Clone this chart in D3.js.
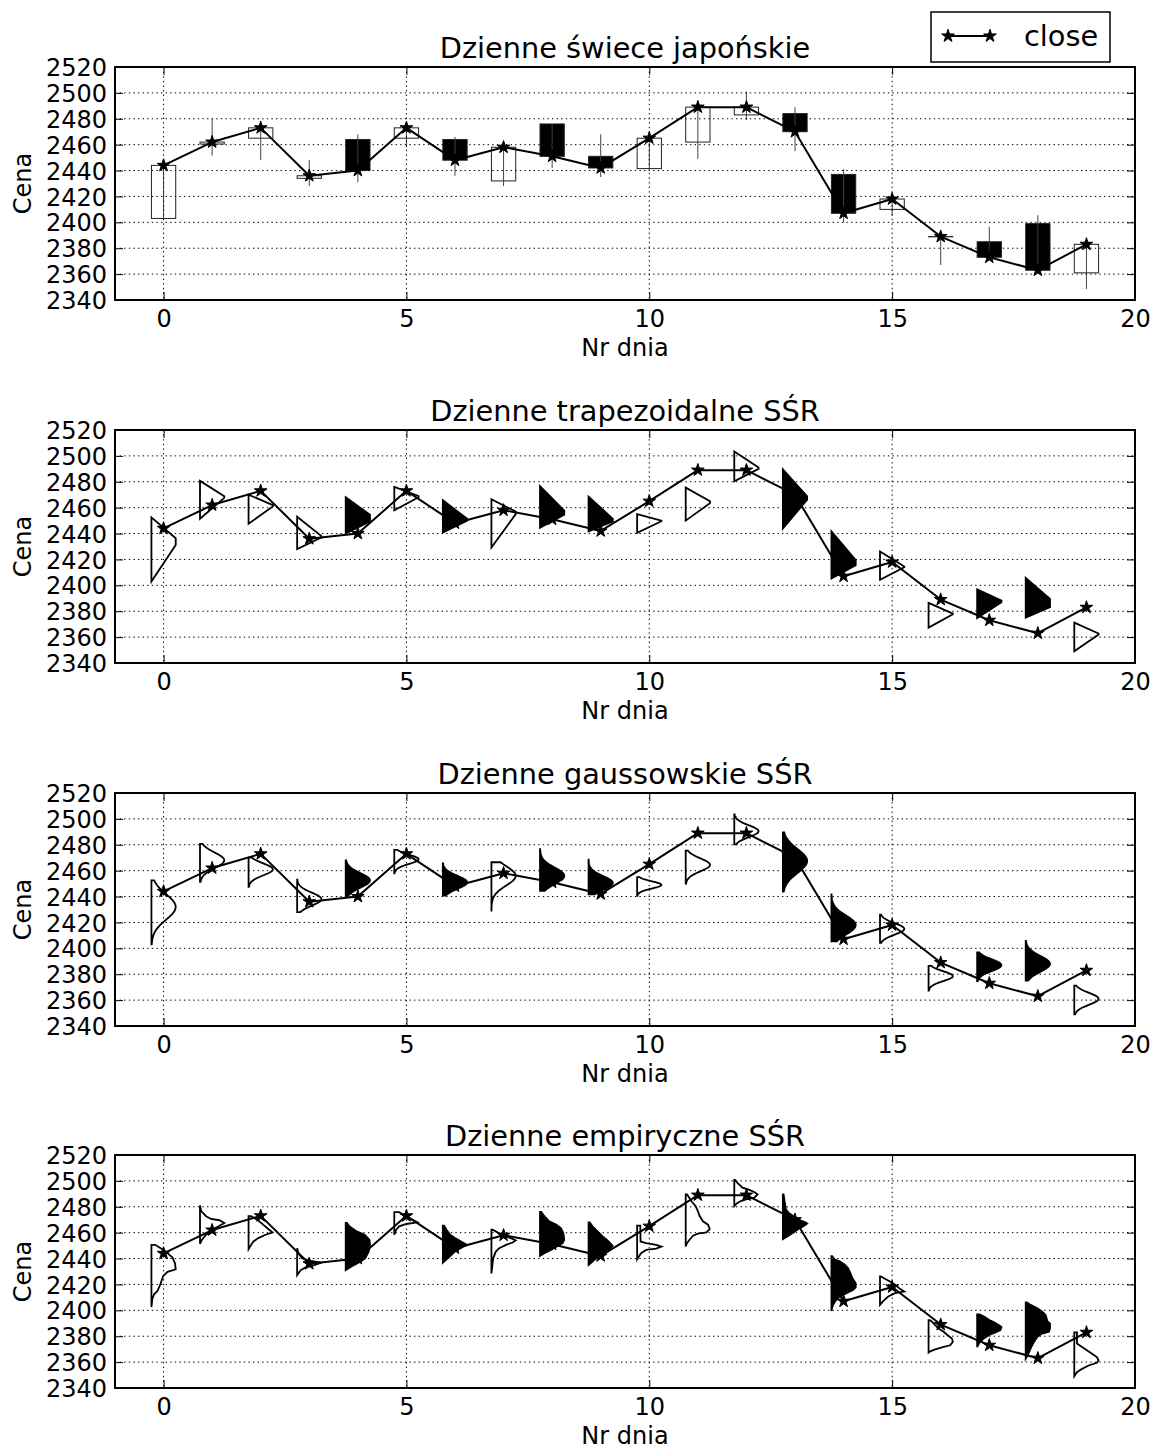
<!DOCTYPE html>
<html>
<head>
<meta charset="utf-8">
<script src="https://cdn.jsdelivr.net/npm/d3@7"></script>
<style>
  body { margin: 0; background: #fff; }
  text { font-family: "DejaVu Sans", sans-serif; fill: #000; }
</style>
</head>
<body>
<svg id="chart" width="1153" height="1450"></svg>
<script>
// ---- data -------------------------------------------------------------
const days = [0, 1, 2, 3, 4, 5, 6, 7, 8, 9, 10, 11, 12, 13, 14, 15, 16, 17, 18, 19];

// daily OHLC
const openP  = [2403, 2460.5, 2465, 2434, 2464, 2465, 2464, 2432, 2476, 2451, 2441.5, 2462, 2483, 2484, 2437, 2410, 2388.8, 2385, 2399, 2361];
const highP  = [2445, 2480, 2474, 2448, 2468, 2475, 2466, 2458, 2476, 2468, 2466, 2489, 2501, 2489, 2441, 2422, 2390, 2396.5, 2405.5, 2383.5];
const lowP   = [2402.5, 2451.5, 2448, 2428, 2431, 2458, 2436, 2428, 2442, 2435, 2441, 2449, 2479, 2455, 2400, 2405, 2367, 2370.5, 2360, 2348.5];
const closeP = [2444, 2462, 2473, 2436, 2440, 2473, 2448, 2458, 2451, 2442, 2465, 2489, 2489, 2470, 2407, 2418, 2389, 2373, 2363, 2383];

// support and core of the daily fuzzy numbers
const supportLow  = [2403, 2451.4, 2447.5, 2428, 2440, 2458, 2440.7, 2429.2, 2444.5, 2441.7, 2440.5, 2450, 2480.3, 2443.9, 2405.3, 2404.3, 2367.3, 2374.7, 2375, 2349];
const supportHigh = [2452.5, 2480.7, 2470, 2453, 2468, 2476, 2465.7, 2466.5, 2476.6, 2468.5, 2455, 2475.5, 2503.4, 2489.6, 2441.7, 2426.1, 2386.4, 2396.9, 2405.8, 2371.2];
const coreLow  = [2431.2, 2467.5, 2461, 2437, 2449.4, 2468, 2449.9, 2455, 2454.6, 2449.4, 2449.5, 2463.5, 2490, 2466.2, 2415.6, 2414, 2377.6, 2387, 2383.1, 2362];
const coreHigh = [2436.4, 2468.8, 2462, 2438, 2454.5, 2469, 2451.4, 2457, 2457.7, 2451.4, 2450, 2465, 2491, 2468.8, 2419.5, 2414.6, 2378.2, 2388.3, 2389.6, 2362.8];

// gaussian fuzzy numbers
const gaussMean  = [2432, 2468, 2461, 2438, 2452.5, 2468.8, 2451, 2456, 2456, 2450.5, 2449, 2464.5, 2490.5, 2467.5, 2418, 2415, 2378.5, 2387, 2388, 2361];
const gaussSigma = [9.8, 6, 4.6, 5, 5.6, 3.6, 5, 7.5, 6.4, 5.3, 2.8, 5, 4.5, 9.2, 7.3, 4.4, 3.8, 4.5, 6.1, 4.6];

// empirical membership profiles: [price, membership] from the top of the day's range down
const empirical = [
  [[2450.6,0.15],[2446.7,0.5],[2441,0.86],[2436.3,0.97],[2431.6,1.0],[2429.8,0.66],[2426.4,0.48],[2420.7,0.38],[2415,0.25],[2412.4,0.11],[2409,0.04],[2402.5,0]],
  [[2481,0],[2476.6,0.05],[2472.7,0.25],[2470.6,0.45],[2469.6,0.8],[2467.5,1.0],[2465.4,0.8],[2462.3,0.52],[2458.4,0.25],[2454.5,0.08],[2451.4,0]],
  [[2472.7,0.1],[2470.1,0.35],[2466.2,0.6],[2462.3,0.85],[2460.2,0.99],[2458.4,0.7],[2455.8,0.4],[2453.2,0.2],[2449.8,0.08],[2447.2,0]],
  [[2448,0],[2444.1,0.05],[2440.2,0.2],[2438.4,0.5],[2436.8,1.0],[2435,0.7],[2433.2,0.35],[2431.1,0.15],[2427.2,0]],
  [[2467.5,0.05],[2464.9,0.15],[2461,0.45],[2458.4,0.78],[2454.5,0.98],[2450.6,1.0],[2445.4,0.95],[2440.2,0.8],[2437.6,0.6],[2435,0.35],[2432.4,0.1],[2431.1,0]],
  [[2475.8,0.2],[2474,0.35],[2471.4,0.55],[2469.6,0.8],[2468,0.95],[2466.7,0.5],[2464.9,0.2],[2462.3,0.08],[2458.4,0]],
  [[2465.4,0.05],[2462.3,0.15],[2458.4,0.3],[2455.8,0.5],[2453.2,0.75],[2450.6,1.0],[2448.8,0.8],[2445.4,0.5],[2442,0.3],[2438.9,0.12],[2436.8,0]],
  [[2462.3,0.05],[2460.2,0.25],[2457.6,0.52],[2455.8,0.8],[2454,1.0],[2452.4,0.87],[2450.6,0.6],[2448,0.32],[2445.4,0.18],[2440.2,0.07],[2435,0.04],[2428.5,0]],
  [[2476.1,0.05],[2472.7,0.18],[2468.8,0.38],[2466.2,0.66],[2463.6,0.86],[2459.7,0.96],[2454.5,1.0],[2451.9,0.93],[2449.8,0.73],[2446.7,0.45],[2444.1,0.18],[2442,0]],
  [[2468,0.05],[2464.9,0.16],[2461,0.37],[2457.1,0.58],[2454,0.78],[2449.8,0.99],[2448,0.9],[2445.4,0.7],[2442,0.44],[2438.9,0.23],[2435,0]],
  [[2465.4,0.13],[2453.2,0.14],[2451.9,0.37],[2450.6,0.78],[2449.3,1.0],[2447.7,0.78],[2446.7,0.37],[2444.1,0.16],[2441.5,0.07],[2439.4,0]],
  [[2489.6,0.05],[2488.3,0.1],[2484.4,0.23],[2480.5,0.41],[2476.6,0.5],[2472.7,0.58],[2468.8,0.71],[2466.2,0.92],[2462.8,0.99],[2460.2,0.85],[2459.2,0.5],[2457.6,0.3],[2454.5,0.16],[2451.9,0.05],[2449.3,0]],
  [[2500.8,0.03],[2498.2,0.14],[2494.8,0.34],[2493,0.62],[2491.4,0.82],[2489.6,0.96],[2487,0.82],[2485.7,0.48],[2484.4,0.27],[2482.6,0.1],[2480.5,0]],
  [[2489.6,0.03],[2483.1,0.08],[2477.9,0.13],[2475.3,0.23],[2472.7,0.44],[2470.1,0.64],[2468,0.92],[2467,1.0],[2464.9,0.85],[2462.8,0.64],[2460.2,0.44],[2457.6,0.23],[2455,0]],
  [[2441.8,0.03],[2439.2,0.14],[2437.9,0.34],[2435.3,0.55],[2432.7,0.68],[2428.8,0.78],[2424.9,0.86],[2421,1.0],[2417.7,1.0],[2415.8,0.89],[2413.3,0.62],[2410.7,0.34],[2406.8,0.14],[2402.9,0.04],[2399.5,0]],
  [[2426.2,0.03],[2424.4,0.2],[2422.3,0.41],[2419.7,0.62],[2416.6,0.82],[2414.5,1.0],[2413.3,0.62],[2410.7,0.34],[2407.3,0.14],[2404.2,0]],
  [[2392.5,0.05],[2391.2,0.14],[2388.6,0.27],[2386,0.41],[2383.4,0.62],[2381.3,0.75],[2378.2,0.96],[2375.6,1.0],[2373,0.89],[2371.7,0.62],[2369.8,0.27],[2368.3,0.07],[2367.3,0]],
  [[2396.9,0.1],[2395.1,0.3],[2392.5,0.5],[2390.7,0.7],[2389.1,0.85],[2387.3,1.0],[2384.7,0.96],[2382.9,0.75],[2380.8,0.48],[2378.2,0.27],[2375.6,0.11],[2371.7,0]],
  [[2406.2,0.05],[2404.2,0.2],[2401.6,0.48],[2399,0.68],[2396.4,0.82],[2391.7,0.89],[2389.9,1.0],[2386,1.0],[2383.4,0.96],[2382.1,0.68],[2379.5,0.48],[2375.6,0.34],[2371.7,0.23],[2367.8,0.14],[2363.9,0.04],[2362.6,0]],
  [[2382.9,0.11],[2374.3,0.11],[2371.7,0.32],[2369.1,0.52],[2366.5,0.73],[2363.9,0.93],[2361.3,1.0],[2359.5,0.93],[2357.4,0.59],[2354.8,0.32],[2352.2,0.11],[2349.1,0]]
];

// axis ticks and texts
const xTicks = [0, 5, 10, 15, 20];
const yTicks = [2340, 2360, 2380, 2400, 2420, 2440, 2460, 2480, 2500, 2520];
const titles = ["Dzienne świece japońskie", "Dzienne trapezoidalne SŚR", "Dzienne gaussowskie SŚR", "Dzienne empiryczne SŚR"];
const xLabel = "Nr dnia";
const yLabel = "Cena";
const legendLabel = "close";

// ---- layout -----------------------------------------------------------
const svg = d3.select("#chart");
const plotLeft = 115, plotRight = 1135, plotH = 233;
const panelTops = [67, 430, 793, 1155];
const tickFont = 24, titleFont = 28.8, legendFont = 28.8;

const x = d3.scaleLinear().domain([-1, 20]).range([plotLeft, plotRight]);
const bodyHalf = 0.25;       // half width of candle bodies, in days
const profileSpan = 0.5;     // width of a full-membership profile, in days

const star = d3.symbol().type(d3.symbolStar).size(50);

function isDown(i) { return closeP[i] < openP[i]; }

function makePanel(k) {
  const top = panelTops[k], bottom = top + plotH;
  const y = d3.scaleLinear().domain([2340, 2520]).range([bottom, top]);
  const g = svg.append("g");
  const clipId = "clip" + k;
  svg.append("clipPath").attr("id", clipId)
    .append("rect").attr("x", plotLeft).attr("y", top)
    .attr("width", plotRight - plotLeft).attr("height", plotH);
  const plot = g.append("g").attr("clip-path", `url(#${clipId})`);
  const marks = plot.append("g");
  return { k, top, bottom, y, g, plot, marks };
}

function finishPanel(p) {
  const { g, plot, y, top, bottom } = p;
  // dotted grid
  const grid = plot.append("g")
    .attr("stroke", "#000").attr("stroke-width", 1)
    .attr("stroke-dasharray", "1.4,3.2").attr("fill", "none");
  grid.selectAll("line.h").data(yTicks).join("line").attr("class", "h")
    .attr("x1", plotLeft).attr("x2", plotRight)
    .attr("y1", d => y(d)).attr("y2", d => y(d));
  grid.selectAll("line.v").data(xTicks).join("line").attr("class", "v")
    .attr("x1", d => x(d)).attr("x2", d => x(d))
    .attr("y1", top).attr("y2", bottom);

  // close line with star markers
  const line = d3.line().x((d, i) => x(days[i])).y(d => y(d));
  plot.append("path").datum(closeP)
    .attr("d", line).attr("fill", "none")
    .attr("stroke", "#000").attr("stroke-width", 2).attr("stroke-linejoin", "round");
  plot.selectAll("path.star").data(closeP).join("path").attr("class", "star")
    .attr("d", star)
    .attr("transform", (d, i) => `translate(${x(days[i])},${y(d)})`)
    .attr("fill", "#000").attr("stroke", "#000").attr("stroke-width", 1);

  // axes with inward ticks on all four sides
  const axB = g.append("g").attr("transform", `translate(0,${bottom})`)
    .call(d3.axisBottom(x).tickValues(xTicks).tickSize(-8).tickPadding(10).tickFormat(d3.format("d")));
  const axT = g.append("g").attr("transform", `translate(0,${top})`)
    .call(d3.axisTop(x).tickValues(xTicks).tickSize(-8).tickFormat(""));
  const axL = g.append("g").attr("transform", `translate(${plotLeft},0)`)
    .call(d3.axisLeft(y).tickValues(yTicks).tickSize(-8).tickPadding(8).tickFormat(d3.format("d")));
  const axR = g.append("g").attr("transform", `translate(${plotRight},0)`)
    .call(d3.axisRight(y).tickValues(yTicks).tickSize(-8).tickFormat(""));
  [axB, axT, axL, axR].forEach(a => {
    a.select(".domain").remove();
    a.selectAll(".tick line").attr("stroke", "#000").attr("stroke-width", 1);
    a.selectAll("text").attr("font-size", tickFont).attr("font-family", "DejaVu Sans").attr("fill", "#000");
  });
  axL.selectAll("text").attr("dy", "0.36em");

  // frame
  g.append("rect").attr("x", plotLeft).attr("y", top)
    .attr("width", plotRight - plotLeft).attr("height", plotH)
    .attr("fill", "none").attr("stroke", "#000").attr("stroke-width", 2);

  // texts
  g.append("text").attr("x", (plotLeft + plotRight) / 2).attr("y", top - 9)
    .attr("text-anchor", "middle").attr("font-size", titleFont).text(titles[p.k]);
  g.append("text").attr("x", (plotLeft + plotRight) / 2).attr("y", bottom + 56)
    .attr("text-anchor", "middle").attr("font-size", tickFont).text(xLabel);
  g.append("text")
    .attr("transform", `translate(31,${(top + bottom) / 2}) rotate(-90)`)
    .attr("text-anchor", "middle").attr("font-size", tickFont).text(yLabel);
}

function profilePath(y, day, pts) {
  // pts: [price, membership]; the profile opens to the right of a vertical base line
  const x0 = day - bodyHalf;
  const poly = [[x(x0), y(pts[0][0])]]
    .concat(pts.map(([p, m]) => [x(x0 + profileSpan * m), y(p)]))
    .concat([[x(x0), y(pts[pts.length - 1][0])]]);
  return d3.line()(poly) + "Z";
}

function drawProfiles(p, profiles) {
  p.marks.selectAll("path.prof").data(profiles).join("path").attr("class", "prof")
    .attr("d", (pts, i) => profilePath(p.y, days[i], pts))
    .attr("fill", (pts, i) => isDown(i) ? "#000" : "#fff")
    .attr("stroke", "#000").attr("stroke-width", 1.8).attr("stroke-linejoin", "miter");
}

// ---- panel 1: candlesticks -------------------------------------------
const p1 = makePanel(0);
p1.marks.selectAll("rect.body").data(days).join("rect").attr("class", "body")
  .attr("x", i => x(i - bodyHalf))
  .attr("width", i => x(i + bodyHalf) - x(i - bodyHalf))
  .attr("y", i => p1.y(Math.max(openP[i], closeP[i])))
  .attr("height", i => Math.abs(p1.y(openP[i]) - p1.y(closeP[i])))
  .attr("fill", i => isDown(i) ? "#000" : "#fff")
  .attr("stroke", "#222").attr("stroke-width", 1);
p1.marks.selectAll("line.wick").data(days).join("line").attr("class", "wick")
  .attr("x1", i => x(i)).attr("x2", i => x(i))
  .attr("y1", i => p1.y(highP[i])).attr("y2", i => p1.y(lowP[i]))
  .attr("stroke", "#444").attr("stroke-width", 1);
finishPanel(p1);

// ---- panel 2: trapezoidal fuzzy numbers -------------------------------
const p2 = makePanel(1);
drawProfiles(p2, days.map(i => [
  [supportHigh[i], 0], [coreHigh[i], 1], [coreLow[i], 1], [supportLow[i], 0]
]));
finishPanel(p2);

// ---- panel 3: gaussian fuzzy numbers ----------------------------------
const p3 = makePanel(2);
drawProfiles(p3, days.map(i => {
  const prices = d3.range(60).map(j => supportHigh[i] - (supportHigh[i] - supportLow[i]) * j / 59);
  return prices.map(v => [v, Math.exp(-((v - gaussMean[i]) ** 2) / (2 * gaussSigma[i] ** 2))]);
}));
finishPanel(p3);

// ---- panel 4: empirical fuzzy numbers ---------------------------------
const p4 = makePanel(3);
drawProfiles(p4, empirical);
finishPanel(p4);

// ---- legend -----------------------------------------------------------
const lg = svg.append("g");
lg.append("rect").attr("x", 931).attr("y", 12).attr("width", 179).attr("height", 50)
  .attr("fill", "#fff").attr("stroke", "#000").attr("stroke-width", 1.5);
lg.append("line").attr("x1", 948).attr("x2", 990).attr("y1", 36).attr("y2", 36)
  .attr("stroke", "#000").attr("stroke-width", 2);
lg.selectAll("path.star").data([948, 990]).join("path").attr("class", "star")
  .attr("d", star).attr("transform", d => `translate(${d},36)`)
  .attr("fill", "#000").attr("stroke", "#000").attr("stroke-width", 1);
lg.append("text").attr("x", 1024).attr("y", 46).attr("font-size", legendFont).text(legendLabel);
</script>
</body>
</html>
